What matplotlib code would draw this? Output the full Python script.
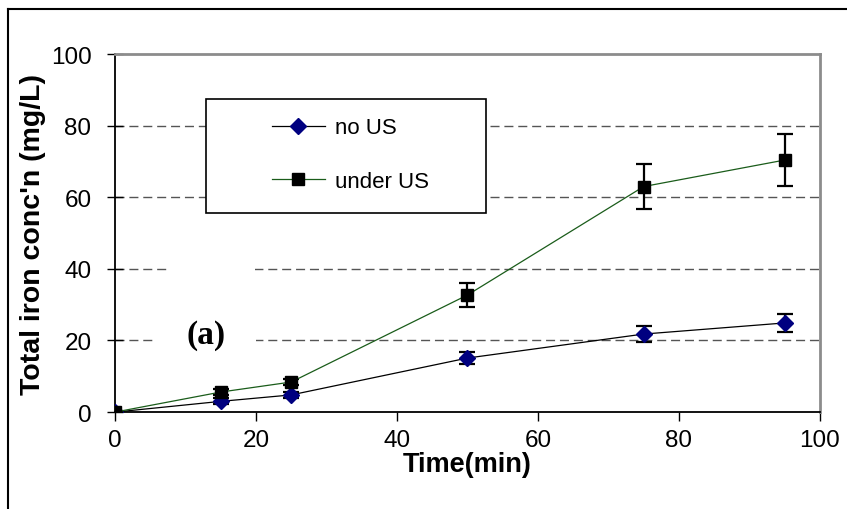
import matplotlib
matplotlib.use('Agg')
import matplotlib.pyplot as plt
from matplotlib.patches import Rectangle
from matplotlib.lines import Line2D

# data
time_min = [0, 15, 25, 50, 75, 95]
no_us = [0, 3.0, 4.8, 15.1, 21.8, 24.9]
no_us_err = [0.3, 0.8, 0.8, 1.7, 2.3, 2.5]
under_us = [0, 5.6, 8.4, 32.7, 63.0, 70.4]
under_us_err = [0.3, 0.8, 0.8, 3.4, 6.3, 7.2]

plt.rcParams['font.family'] = ['Liberation Sans', 'DejaVu Sans']

fig = plt.figure(figsize=(8.47, 5.10), dpi=100)
ax = fig.add_axes([0.1358, 0.190, 0.8322, 0.702])

# no US: navy diamonds, black line
ax.errorbar(time_min, no_us, yerr=no_us_err, color='black', lw=0.9,
            marker='D', ms=8, mfc='#000080', mec='#000080',
            ecolor='black', elinewidth=1.6, capsize=6, capthick=1.6,
            label='no US', zorder=4)
# under US: black squares, dark green line
ax.errorbar(time_min, under_us, yerr=under_us_err, color='#1a5c1a', lw=0.9,
            marker='s', ms=9, mfc='black', mec='black',
            ecolor='black', elinewidth=1.6, capsize=6, capthick=1.6,
            label='under US', zorder=5)

ax.set_xlim(0, 100)
ax.set_ylim(0, 100)
ax.set_xticks([0, 20, 40, 60, 80, 100])
ax.set_yticks([0, 20, 40, 60, 80, 100])

for y in [20, 40, 60, 80]:
    ax.axhline(y, color='#555555', lw=1, ls=(0, (6.5, 3.5)), zorder=1)

# white patch hiding part of the 40 gridline
ax.add_patch(Rectangle((7.8, 37), 12.1, 6, facecolor='white',
                       edgecolor='none', zorder=2))

ax.text(12.9, 21.6, '(a)', fontsize=24, fontweight='bold',
        family=['Liberation Serif', 'DejaVu Serif'],
        ha='center', va='center', zorder=3,
        bbox=dict(facecolor='white', edgecolor='none', pad=22))

for side in ['left', 'bottom']:
    ax.spines[side].set_color('black')
    ax.spines[side].set_linewidth(1.3)
for side in ['top', 'right']:
    ax.spines[side].set_color('#8c8c8c')
    ax.spines[side].set_linewidth(2)

ax.tick_params(axis='y', direction='inout', length=12, width=1, pad=11,
               labelsize=17.5)
ax.tick_params(axis='x', direction='out', length=6.5, width=1, pad=6,
               labelsize=17.5)

ax.set_xlabel('Time(min)', fontsize=19.5, fontweight='bold', labelpad=0)
ax.set_ylabel("Total iron conc'n (mg/L)", fontsize=20.5, fontweight='bold',
              labelpad=3)

# legend box
ax.add_patch(Rectangle((0.129, 0.556), 0.397, 0.318, transform=ax.transAxes,
                       facecolor='white', edgecolor='black', lw=1.2,
                       zorder=6))
handles = [Line2D([], [], color='black', lw=0.9, marker='D', ms=8,
                  mfc='#000080', mec='#000080'),
           Line2D([], [], color='#1a5c1a', lw=0.9, marker='s', ms=9,
                  mfc='black', mec='black')]
leg = ax.legend(handles, ['no US', 'under US'], loc='upper left',
                bbox_to_anchor=(0.222, 0.823), frameon=False, fontsize=16,
                handlelength=2.4, handletextpad=0.45, labelspacing=1.45,
                borderpad=0, borderaxespad=0)
leg.set_zorder(7)

# outer frame lines (top and left)
fig.add_artist(Line2D([0.0094, 1.0], [0.980, 0.980], color='black', lw=1.5))
fig.add_artist(Line2D([0.0094, 0.0094], [0.0, 0.980], color='black', lw=1.5))

fig.savefig('out.png', dpi=100)
